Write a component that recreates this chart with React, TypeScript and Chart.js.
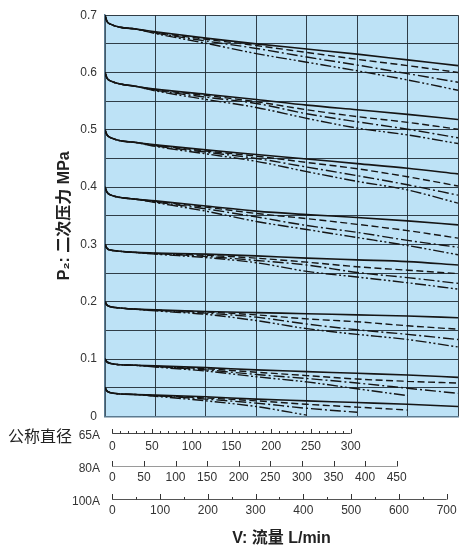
// Pressure/flow characteristic chart: 8 set pressures x 4 line styles, with
// three stacked flow scales (65A / 80A / 100A) under the plot.

import { useEffect, useRef } from 'react';
import { Chart, registerables } from 'chart.js';

Chart.register(...registerables);

// flow samples on the plot grid (100A scale, L/min)
const FLOW = [0, 4, 12, 30, 60, 100, 200, 300, 400, 500, 600, 700];

// one row per set pressure: 0.7, 0.6, 0.5, 0.4, 0.3, 0.2, 0.1, 0.05 MPa
const SOLID = [
  [0.700, 0.689, 0.684, 0.679, 0.676, 0.671, 0.660, 0.650, 0.641, 0.632, 0.622, 0.612],
  [0.600, 0.590, 0.585, 0.580, 0.576, 0.571, 0.562, 0.553, 0.543, 0.535, 0.527, 0.518],
  [0.500, 0.491, 0.486, 0.481, 0.478, 0.474, 0.465, 0.457, 0.449, 0.441, 0.433, 0.423],
  [0.400, 0.391, 0.386, 0.382, 0.379, 0.376, 0.367, 0.358, 0.352, 0.347, 0.341, 0.334],
  [0.300, 0.293, 0.290, 0.288, 0.286, 0.285, 0.283, 0.280, 0.276, 0.273, 0.270, 0.264],
  [0.200, 0.194, 0.191, 0.189, 0.187, 0.186, 0.183, 0.181, 0.179, 0.177, 0.175, 0.172],
  [0.100, 0.095, 0.092, 0.090, 0.089, 0.088, 0.085, 0.081, 0.078, 0.075, 0.072, 0.068],
  [0.050, 0.044, 0.041, 0.039, 0.038, 0.037, 0.034, 0.030, 0.027, 0.024, 0.021, 0.017],
];

const DASHED = [
  [0.700, 0.689, 0.684, 0.679, 0.676, 0.670, 0.658, 0.647, 0.635, 0.623, 0.612, 0.600],
  [0.600, 0.590, 0.585, 0.580, 0.576, 0.570, 0.560, 0.549, 0.535, 0.523, 0.513, 0.501],
  [0.500, 0.491, 0.486, 0.481, 0.478, 0.473, 0.463, 0.454, 0.443, 0.432, 0.418, 0.402],
  [0.400, 0.391, 0.386, 0.382, 0.379, 0.375, 0.365, 0.354, 0.345, 0.335, 0.324, 0.311],
  [0.300, 0.293, 0.290, 0.288, 0.286, 0.284, 0.281, 0.276, 0.269, 0.261, 0.255, 0.249],
  [0.200, 0.194, 0.191, 0.189, 0.187, 0.185, 0.182, 0.177, 0.170, 0.165, 0.158, 0.152],
  [0.100, 0.095, 0.092, 0.090, 0.089, 0.087, 0.083, 0.077, 0.071, 0.065, 0.061, 0.058],
  [0.050, 0.044, 0.041, 0.039, 0.038, 0.036, 0.032, 0.027, 0.021, 0.016, 0.011],
];

const DASH_DOT = [
  [0.700, 0.689, 0.684, 0.679, 0.676, 0.669, 0.655, 0.642, 0.627, 0.613, 0.598, 0.583],
  [0.600, 0.590, 0.585, 0.580, 0.576, 0.569, 0.557, 0.546, 0.528, 0.514, 0.501, 0.486],
  [0.500, 0.491, 0.486, 0.481, 0.478, 0.472, 0.461, 0.450, 0.435, 0.420, 0.404, 0.386],
  [0.400, 0.391, 0.386, 0.382, 0.379, 0.374, 0.362, 0.348, 0.333, 0.321, 0.307, 0.295],
  [0.300, 0.293, 0.290, 0.288, 0.286, 0.284, 0.279, 0.272, 0.264, 0.251, 0.242, 0.232],
  [0.200, 0.194, 0.191, 0.189, 0.187, 0.185, 0.180, 0.173, 0.161, 0.151, 0.143, 0.134],
  [0.100, 0.095, 0.092, 0.090, 0.089, 0.087, 0.081, 0.073, 0.066, 0.058, 0.049, 0.040],
  [0.050, 0.044, 0.041, 0.039, 0.038, 0.036, 0.030, 0.023, 0.014, 0.007],
];

const DASH_DOT_DOT = [
  [0.700, 0.689, 0.684, 0.679, 0.676, 0.668, 0.651, 0.633, 0.618, 0.603, 0.587, 0.569],
  [0.600, 0.590, 0.585, 0.580, 0.576, 0.568, 0.553, 0.539, 0.520, 0.503, 0.491, 0.476],
  [0.500, 0.491, 0.486, 0.481, 0.478, 0.471, 0.458, 0.445, 0.427, 0.410, 0.395, 0.372],
  [0.400, 0.391, 0.386, 0.382, 0.379, 0.373, 0.358, 0.340, 0.326, 0.312, 0.298, 0.282],
  [0.300, 0.293, 0.290, 0.288, 0.286, 0.283, 0.277, 0.268, 0.253, 0.243, 0.233, 0.222],
  [0.200, 0.194, 0.191, 0.189, 0.187, 0.184, 0.178, 0.167, 0.153, 0.143, 0.134, 0.121],
  [0.100, 0.095, 0.092, 0.090, 0.089, 0.086, 0.079, 0.069, 0.060, 0.048, 0.036],
  [0.050, 0.044, 0.041, 0.039, 0.038, 0.035, 0.027, 0.017, 0.002],
];

// flow scales under the plot, per nominal size
const SIZE_LABELS = ['65A', '80A', '100A'];
const TICKS_65A = [0, 50, 100, 150, 200, 250, 300];
const TICKS_80A = [0, 50, 100, 150, 200, 250, 300, 350, 400, 450];
const TICKS_100A = [0, 100, 200, 300, 400, 500, 600, 700];

const Y_TITLE = 'P₂: 二次压力 MPa';
const X_TITLE = 'V: 流量 L/min';
const SIZE_TITLE = '公称直径';

const FONT = '"Liberation Sans", "Noto Sans CJK SC", sans-serif';
const CJK = '"Noto Sans CJK SC", sans-serif';
const INK = '#151515';
const TEXT = '#333';
const PLOT_BG = '#bde2f6';
const GRID = '#1f2a33';

const LINE_STYLES = [
  { rows: SOLID, dash: [] as number[], width: 1.6 },
  { rows: DASHED, dash: [7, 3.5], width: 1.4 },
  { rows: DASH_DOT, dash: [11, 3, 2, 3], width: 1.4 },
  { rows: DASH_DOT_DOT, dash: [11, 2.5, 2, 2.5, 2, 2.5], width: 1.4 },
];

const BOTTOM_AXES = [
  { id: 'a65', label: SIZE_LABELS[0], ticks: TICKS_65A, minor: 10, major: 4.5, minorLen: 2.5, line: '#444' },
  { id: 'a80', label: SIZE_LABELS[1], ticks: TICKS_80A, minor: 0, major: 5.5, minorLen: 0, line: '#9a9a9a' },
  { id: 'a100', label: SIZE_LABELS[2], ticks: TICKS_100A, minor: 50, major: 5.5, minorLen: 2.5, line: '#555' },
];

const plotBackground = {
  id: 'plotBackground',
  beforeDraw(chart: Chart) {
    const { ctx, chartArea: a } = chart;
    ctx.save();
    ctx.fillStyle = PLOT_BG;
    ctx.fillRect(a.left, a.top, a.right - a.left, a.bottom - a.top);
    ctx.restore();
  },
};

// axis lines, tick marks (pointing up) and the size names for the flow scales
const flowScales = {
  id: 'flowScales',
  afterDraw(chart: Chart) {
    const { ctx, chartArea } = chart;
    ctx.save();
    for (const ax of BOTTOM_AXES) {
      const s = chart.scales[ax.id];
      const y = Math.round(s.top) + 0.5;
      const first = ax.ticks[0];
      const last = ax.ticks[ax.ticks.length - 1];
      ctx.lineWidth = 1;
      ctx.strokeStyle = ax.line;
      ctx.beginPath();
      ctx.moveTo(s.getPixelForValue(first), y);
      ctx.lineTo(s.getPixelForValue(last), y);
      ctx.stroke();

      ctx.strokeStyle = TEXT;
      ctx.beginPath();
      for (const v of ax.ticks) {
        const px = Math.round(s.getPixelForValue(v)) + 0.5;
        ctx.moveTo(px, y);
        ctx.lineTo(px, y - ax.major);
      }
      if (ax.minor) {
        for (let v = first + ax.minor; v < last; v += ax.minor) {
          if (ax.ticks.includes(v)) continue;
          const px = Math.round(s.getPixelForValue(v)) + 0.5;
          ctx.moveTo(px, y);
          ctx.lineTo(px, y - ax.minorLen);
        }
      }
      ctx.stroke();

      ctx.fillStyle = TEXT;
      ctx.font = `12px ${FONT}`;
      ctx.textAlign = 'right';
      ctx.textBaseline = 'middle';
      ctx.fillText(ax.label, chartArea.left - 5, y + 2);
    }
    const s65 = chart.scales.a65;
    ctx.font = `16px ${CJK}`;
    ctx.fillStyle = '#222';
    ctx.textAlign = 'right';
    ctx.textBaseline = 'middle';
    ctx.fillText(SIZE_TITLE, chartArea.left - 33, s65.top + 2.5);
    ctx.restore();
  },
};

function flowScale(ticks: number[], min: number, max: number, weight: number, height: number, pad: number) {
  return {
    type: 'linear' as const,
    axis: 'x' as const,
    position: 'bottom' as const,
    weight,
    min,
    max,
    grid: { display: false, drawTicks: false },
    border: { display: false },
    ticks: {
      autoSkip: false,
      maxRotation: 0,
      padding: pad,
      color: TEXT,
      font: { size: 12, family: FONT },
    },
    afterBuildTicks: (scale: any) => {
      scale.ticks = ticks.map((value) => ({ value }));
    },
    afterFit: (scale: any) => {
      scale.height = height;
    },
  };
}

export default function App() {
  const canvasRef = useRef<HTMLCanvasElement>(null);

  useEffect(() => {
    const canvas = canvasRef.current;
    if (!canvas) return;

    const datasets: any[] = [];
    LINE_STYLES.forEach((style) => {
      style.rows.forEach((row) => {
        datasets.push({
          data: row.map((y, i) => ({ x: FLOW[i], y })),
          borderColor: INK,
          borderWidth: style.width,
          borderDash: style.dash,
          pointRadius: 0,
          fill: false,
          cubicInterpolationMode: 'monotone',
          xAxisID: 'x',
          yAxisID: 'y',
        });
      });
    });

    const xTicks = TICKS_100A;
    const a100 = flowScale(TICKS_100A, -15.3, 723.7, 3, 46.5, 5);
    (a100 as any).title = {
      display: true,
      text: X_TITLE,
      color: '#222',
      font: { size: 16, weight: 'bold', family: FONT, lineHeight: 0.8 },
      padding: { top: 0, bottom: 0 },
    };

    const chart = new Chart(canvas, {
      type: 'line',
      data: { datasets },
      options: {
        responsive: false,
        animation: false,
        layout: { padding: { left: 0, right: 4, top: 10, bottom: 0 } },
        plugins: { legend: { display: false }, tooltip: { enabled: false } },
        scales: {
          x: {
            type: 'linear',
            position: 'bottom',
            weight: 0,
            min: xTicks[0],
            max: xTicks[xTicks.length - 1],
            grid: { color: GRID, lineWidth: 0.9, drawTicks: false },
            border: { color: '#5b7a90', width: 1.5 },
            ticks: { display: false, stepSize: 100 },
            afterFit: (scale: any) => {
              scale.height = 16.7;
            },
          },
          a65: flowScale(TICKS_65A, -9.2, 435, 1, 32.5, 6),
          a80: flowScale(TICKS_80A, -11.6, 547, 2, 33, 5),
          a100,
          y: {
            type: 'linear',
            min: 0,
            max: 0.7,
            grid: { color: GRID, lineWidth: 0.9, drawTicks: false },
            border: { color: '#5b7a90', width: 1.5 },
            ticks: {
              stepSize: 0.05,
              padding: 8,
              color: TEXT,
              font: { size: 12, family: FONT },
              callback: (value: any) => {
                const v = Math.round(Number(value) * 100);
                if (v % 10 !== 0) return '';
                return v === 0 ? '0' : (v / 100).toFixed(1);
              },
            },
            title: {
              display: true,
              text: Y_TITLE,
              color: '#222',
              font: { size: 16, weight: 'bold', family: FONT },
              padding: { top: 55, bottom: 0 },
            },
            afterFit: (scale: any) => {
              scale.width = 105;
            },
          },
        },
      },
      plugins: [plotBackground, flowScales],
    } as any);

    return () => chart.destroy();
  }, []);

  return (
    <div style={{ position: 'fixed', left: 0, top: 0, width: 462, height: 545, background: '#fff' }}>
      <canvas ref={canvasRef} width={462} height={545} />
    </div>
  );
}
